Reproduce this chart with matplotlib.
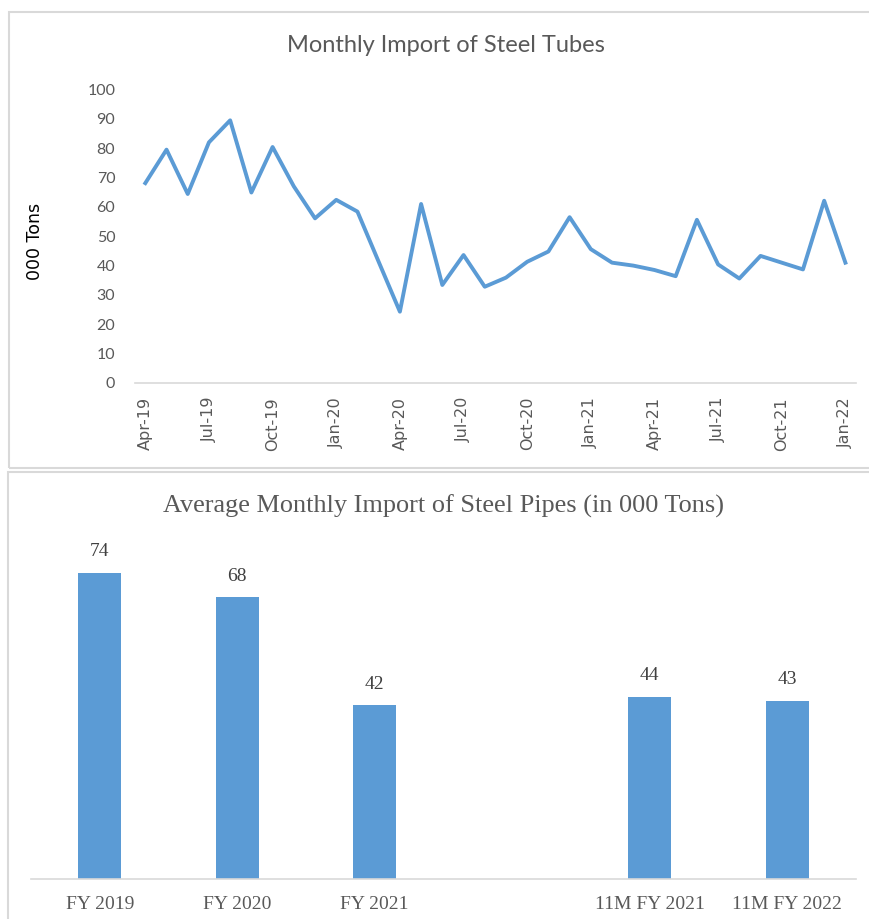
import numpy as np
import matplotlib
matplotlib.use("Agg")
from matplotlib import pyplot as plt
from matplotlib.patches import Rectangle

#%% data - monthly import of steel tubes (000 tons)
months = ['Apr-19', 'May-19', 'Jun-19', 'Jul-19', 'Aug-19', 'Sep-19', 'Oct-19', 'Nov-19',
          'Dec-19', 'Jan-20', 'Feb-20', 'Mar-20', 'Apr-20', 'May-20', 'Jun-20', 'Jul-20',
          'Aug-20', 'Sep-20', 'Oct-20', 'Nov-20', 'Dec-20', 'Jan-21', 'Feb-21', 'Mar-21',
          'Apr-21', 'May-21', 'Jun-21', 'Jul-21', 'Aug-21', 'Sep-21', 'Oct-21', 'Nov-21',
          'Dec-21', 'Jan-22']
tubes = [68.1, 79.5, 64.4, 82.0, 89.5, 64.9, 80.4, 67.0, 56.1, 62.4, 58.4, 41.3,
         24.3, 61.0, 33.4, 43.6, 32.8, 35.9, 41.3, 44.8, 56.5, 45.6, 41.0, 40.0,
         38.5, 36.4, 55.6, 40.4, 35.6, 43.3, 41.0, 38.7, 62.1, 41.0]

# average monthly import of pipes, one empty slot between the two groups
periods = ['FY 2019', 'FY 2020', 'FY 2021', '', '11M FY 2021', '11M FY 2022']
pipes = [74, 68, 42, np.nan, 44, 43]

blue = '#5B9BD5'
grey_txt = '#595959'
grey_line = '#D9D9D9'

W, H = 869, 919
fig = plt.figure(figsize=(W/100, H/100), dpi=100)

# panel frames
fig.patches.append(Rectangle((9/W, 1-468/H), 900/W, 456/H, transform=fig.transFigure,
                             fill=False, ec=grey_line, lw=1.5, clip_on=False))
fig.patches.append(Rectangle((8/W, -0.1), 900/W, 1.1-472/H, transform=fig.transFigure,
                             fill=False, ec=grey_line, lw=1.5, clip_on=False))

#%% top - line chart
ax1 = fig.add_axes([134.7/W, 1-383/H, 721.3/W, 293.5/H])
x = np.arange(len(months))
ax1.plot(x, tubes, color=blue, lw=2.8, solid_joinstyle='round')
ax1.set_xlim(-0.5, len(months)-0.5)
ax1.set_ylim(0, 100)
ax1.set_yticks(range(0, 101, 10))
ax1.set_yticklabels([str(v) for v in range(0, 101, 10)], fontfamily='Lato',
                    fontsize=11.5, color=grey_txt)
ax1.set_xticks(x[::3])
ax1.set_xticklabels(months[::3], rotation=90, fontfamily='DejaVu Sans', fontsize=11.5,
                    color=grey_txt)
ax1.tick_params(axis='y', length=0, pad=14)
ax1.tick_params(axis='x', length=0, pad=10)
for s in ['top', 'right', 'left']:
    ax1.spines[s].set_visible(False)
ax1.spines['bottom'].set_color(grey_line)
ax1.spines['bottom'].set_linewidth(1.2)
fig.text(35/W, 1-241/H, '000 Tons', rotation=90, ha='center', va='center',
         fontfamily='DejaVu Sans', fontsize=12.5, color='black')
fig.text(446/W, 1-46/H, 'Monthly Import of Steel Tubes', ha='center', va='center',
         fontfamily='Lato', fontsize=17, color=grey_txt)

#%% bottom - bar chart
ax2 = fig.add_axes([31/W, 1-879/H, 825/W, 331.2/H])
xb = np.arange(len(periods))
bars = ax2.bar(xb, pipes, width=0.313, color=blue)
ax2.bar_label(bars, labels=['' if np.isnan(v) else '%d' % v for v in pipes], padding=9,
              fontfamily='Liberation Serif', fontsize=14, color='#404040')
ax2.set_xlim(-0.5, len(periods)-0.5)
ax2.set_ylim(0, 80)
ax2.set_yticks([])
ax2.set_xticks(xb)
ax2.set_xticklabels(periods, fontfamily='Liberation Serif', fontsize=14, color=grey_txt)
ax2.tick_params(axis='x', length=0, pad=12)
for s in ['top', 'right', 'left']:
    ax2.spines[s].set_visible(False)
ax2.spines['bottom'].set_color(grey_line)
ax2.spines['bottom'].set_linewidth(1.2)
fig.text(443.5/W, 1-506/H, 'Average Monthly Import of Steel Pipes (in 000 Tons)',
         ha='center', va='center', fontfamily='Liberation Serif', fontsize=18.9,
         color=grey_txt)

fig.savefig('out.png', dpi=100)
